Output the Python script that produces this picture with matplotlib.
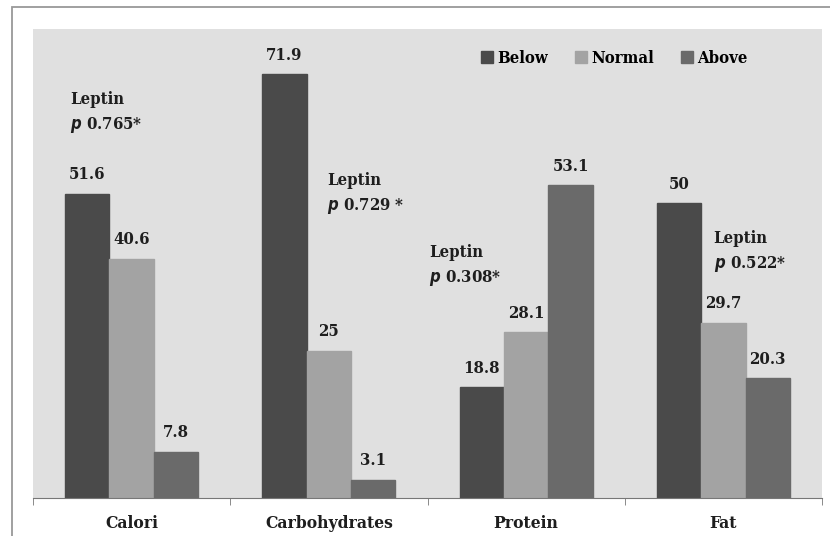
import matplotlib.pyplot as plt
import numpy as np
from matplotlib.patches import Rectangle

plt.rcParams['font.family'] = ['DejaVu Serif']
plt.rcParams['font.stretch'] = 'condensed'
plt.rcParams['font.weight'] = 'bold'
plt.rcParams['mathtext.fontset'] = 'custom'
plt.rcParams['mathtext.it'] = 'DejaVu Serif Condensed:italic:bold'
plt.rcParams['mathtext.rm'] = 'DejaVu Serif Condensed:bold'

categories = ['Calori', 'Carbohydrates', 'Protein', 'Fat']
below = [51.6, 71.9, 18.8, 50]
normal = [40.6, 25, 28.1, 29.7]
above = [7.8, 3.1, 53.1, 20.3]
series_names = ['Below', 'Normal', 'Above']
p_labels = ['0.765*', '0.729 *', '0.308*', '0.522*']
# annotation anchors (category units, value units)
note_x = [-0.31, 0.99, 1.51, 2.95]
note_y = [66.8, 53.1, 40.9, 43.3]

colors = ['#4a4a4a', '#a3a3a3', '#6a6a6a']
txt = '#1e1e1e'

fig = plt.figure(figsize=(8.3, 5.36), dpi=100)
fig.patches.append(Rectangle((12/830, -0.1), 1.2, 1.1 - 7/536,
                             transform=fig.transFigure, fill=False,
                             edgecolor='#999999', linewidth=1.3))
ax = fig.add_axes([33/830, 38/536, 789/830, 469/536])
ax.set_facecolor('#e0e0e0')

x = np.arange(len(categories))
w = 0.225
for i, (vals, name) in enumerate(zip([below, normal, above], series_names)):
    pos = x + (i - 1) * w
    ax.bar(pos, vals, w, color=colors[i], label=name, edgecolor=colors[i])
    for px, v in zip(pos, vals):
        ax.text(px, v + 1.8, f'{v:g}', ha='center', va='bottom',
                fontsize=12, color=txt)

for nx, ny, pl in zip(note_x, note_y, p_labels):
    ax.text(nx, ny, 'Leptin', fontsize=12, color=txt, va='baseline')
    ax.text(nx, ny - 4.2, r'$p$ ' + pl, fontsize=12, color=txt,
            va='baseline')

ax.set_xlim(-0.5, 3.5)
ax.set_ylim(0, 79.6)
ax.set_xticks(x)
ax.set_xticklabels(categories, fontsize=12.5, color=txt)
ax.set_xticks(np.arange(-0.5, 4, 1), minor=True)
ax.tick_params(axis='x', which='major', length=0, pad=12)
ax.tick_params(axis='x', which='minor', length=5, color='#777777')
ax.set_yticks([])
for s in ['top', 'right', 'left']:
    ax.spines[s].set_visible(False)
ax.spines['bottom'].set_color('#777777')

ax.legend(loc='upper right', bbox_to_anchor=(0.925, 0.988), ncol=3, frameon=False,
          handlelength=0.75, handleheight=0.75, handletextpad=0.25,
          columnspacing=1.6, prop={'size': 12, 'weight': 'bold',
                                   'stretch': 'condensed'})

fig.savefig('out.png', dpi=100)
